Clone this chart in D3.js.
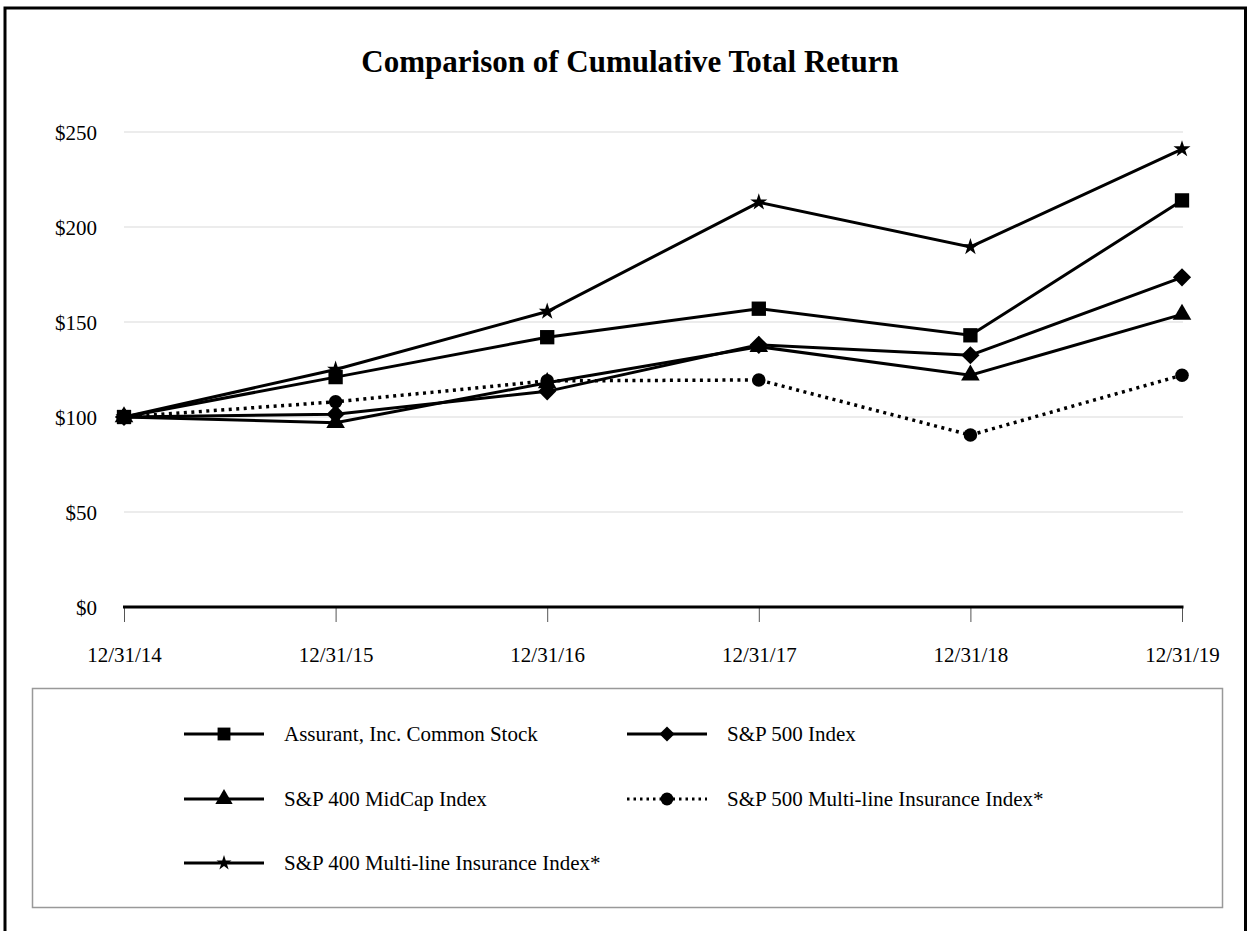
<!DOCTYPE html>
<html>
<head>
<meta charset="utf-8">
<script src="https://cdn.jsdelivr.net/npm/d3@7"></script>
<style>
  body { margin: 0; background: #fff; }
  svg { display: block; font-family: "Liberation Serif", "Times New Roman", serif; }
</style>
</head>
<body>
<div id="chart"></div>
<script>
// dates on the x axis
var dates = ["12/31/14", "12/31/15", "12/31/16", "12/31/17", "12/31/18", "12/31/19"];

// cumulative total return values
var assurant    = [100, 121, 142, 157, 143, 214];
var sp500       = [100, 101.5, 113.5, 138, 132.5, 173.5];
var midcap      = [100, 97, 118, 137, 122, 154];
var sp500Multi  = [100, 108, 119, 119.5, 90.5, 122];
var sp400Multi  = [100, 125, 155.5, 213, 189.5, 241];

var yTicks = [0, 50, 100, 150, 200, 250];

var seriesNames = [
  "Assurant, Inc. Common Stock",
  "S&P 500 Index",
  "S&P 400 MidCap Index",
  "S&P 500 Multi-line Insurance Index*",
  "S&P 400 Multi-line Insurance Index*"
];
var seriesValues = [assurant, sp500, midcap, sp500Multi, sp400Multi];
var seriesMarkers = ["square", "diamond", "triangle", "circle", "star"];
var seriesDotted = [false, false, false, true, false];

var W = 1251, H = 931;

var svg = d3.select("#chart").append("svg")
  .attr("width", W)
  .attr("height", H);

// outer frame
svg.append("rect")
  .attr("x", 5).attr("y", 8)
  .attr("width", 1240.5).attr("height", 940)
  .attr("fill", "none")
  .attr("stroke", "#000")
  .attr("stroke-width", 3);

// title
svg.append("text")
  .attr("x", 630).attr("y", 72)
  .attr("text-anchor", "middle")
  .attr("font-size", 31)
  .attr("font-weight", "bold")
  .text("Comparison of Cumulative Total Return");

var x = d3.scalePoint().domain(dates).range([124, 1182]);
var y = d3.scaleLinear().domain([0, 250]).range([607, 132]);

// grid lines
svg.append("g").selectAll("line.grid")
  .data(yTicks.filter(d => d > 0))
  .enter().append("line")
    .attr("class", "grid")
    .attr("x1", 124).attr("x2", 1183)
    .attr("y1", d => y(d)).attr("y2", d => y(d))
    .attr("stroke", "#d9d9d9")
    .attr("stroke-width", 1);

// y labels
svg.append("g").selectAll("text.ylab")
  .data(yTicks)
  .enter().append("text")
    .attr("class", "ylab")
    .attr("x", 97)
    .attr("y", d => y(d) + 8)
    .attr("text-anchor", "end")
    .attr("font-size", 21)
    .text(d => "$" + d);

// x axis
var xAxis = d3.axisBottom(x).tickSize(15).tickPadding(25);
var gx = svg.append("g")
  .attr("transform", "translate(0," + y(0) + ")")
  .call(xAxis);
gx.select(".domain").remove();
gx.selectAll(".tick line").attr("stroke", "#555").attr("stroke-width", 1);
gx.selectAll(".tick text")
  .attr("font-size", 21)
  .attr("font-family", "Liberation Serif, serif")
  .attr("fill", "#000");
svg.append("line")
  .attr("x1", 123).attr("x2", 1183.5)
  .attr("y1", y(0)).attr("y2", y(0))
  .attr("stroke", "#000")
  .attr("stroke-width", 3);

// marker shapes (diamond = square turned 45 degrees)
var symbolType = {
  square: d3.symbolSquare, diamond: d3.symbolSquare, triangle: d3.symbolTriangle,
  circle: d3.symbolCircle, star: d3.symbolStar
};
var chartSize = { square: 205, diamond: 165, triangle: 150, circle: 145, star: 90 };
var legendSize = { square: 165, diamond: 115, triangle: 130, circle: 130, star: 70 };
function rot(m) { return m === "diamond" ? " rotate(45)" : ""; }

var line = d3.line()
  .x((d, i) => x(dates[i]))
  .y(d => y(d));

// lines
seriesValues.forEach(function(vals, s) {
  svg.append("path")
    .datum(vals)
    .attr("d", line)
    .attr("fill", "none")
    .attr("stroke", "#000")
    .attr("stroke-width", seriesDotted[s] ? 3.5 : 3)
    .attr("stroke-dasharray", seriesDotted[s] ? "3,4.5" : null);
});

// markers
seriesValues.forEach(function(vals, s) {
  var m = seriesMarkers[s];
  svg.append("g").selectAll("path.mark")
    .data(vals)
    .enter().append("path")
      .attr("class", "mark")
      .attr("d", d3.symbol().type(symbolType[m]).size(chartSize[m]))
      .attr("transform", (d, i) => "translate(" + x(dates[i]) + "," + y(d) + ")" + rot(m))
      .attr("fill", "#000");
});

// legend box
svg.append("rect")
  .attr("x", 32.5).attr("y", 688.5)
  .attr("width", 1190).attr("height", 219)
  .attr("fill", "none")
  .attr("stroke", "#999")
  .attr("stroke-width", 1.5);

var legendCols = [184, 627];
var legendRows = [734, 799, 863];

seriesNames.forEach(function(name, s) {
  var m = seriesMarkers[s];
  var lx = legendCols[s % 2];
  var ly = legendRows[Math.floor(s / 2)];
  var g = svg.append("g").attr("transform", "translate(" + lx + "," + ly + ")");
  g.append("line")
    .attr("x1", 0).attr("x2", 80)
    .attr("y1", 0).attr("y2", 0)
    .attr("stroke", "#000")
    .attr("stroke-width", 3)
    .attr("stroke-dasharray", seriesDotted[s] ? "2.5,4" : null);
  g.append("path")
    .attr("d", d3.symbol().type(symbolType[m]).size(legendSize[m]))
    .attr("transform", "translate(40,0)" + rot(m))
    .attr("fill", "#000");
  g.append("text")
    .attr("x", 100).attr("y", 7)
    .attr("font-size", 21)
    .text(name);
});
</script>
</body>
</html>
